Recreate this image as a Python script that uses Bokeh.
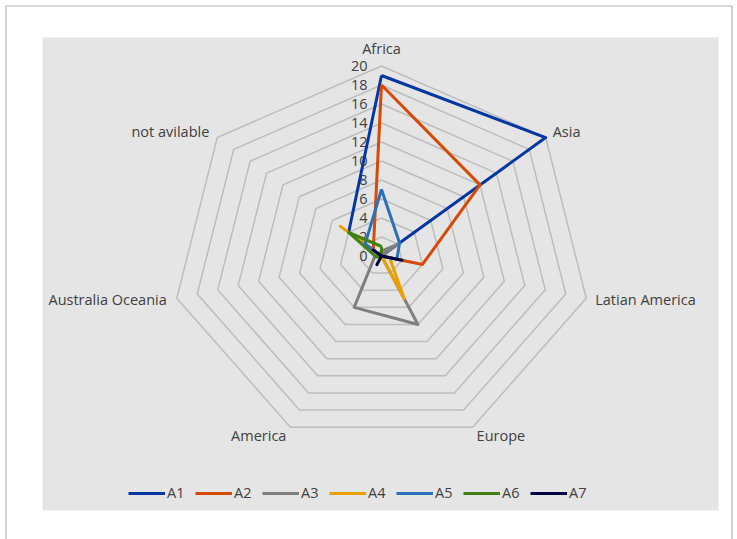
import numpy as np
from bokeh.plotting import figure
from bokeh.models import Range1d, Legend, LegendItem, BoxAnnotation
from bokeh.embed import file_html
from bokeh.resources import INLINE
from bokeh.core.properties import value

# ---------------- data ----------------
categories = ["Africa", "Asia", "Latian America", "Europe", "America",
              "Australia Oceania", "not avilable"]
tick_values = [0, 2, 4, 6, 8, 10, 12, 14, 16, 18, 20]
series_names = ["A1", "A2", "A3", "A4", "A5", "A6", "A7"]
A1 = [19, 20, 0, 0, 0, 0, 4]
A2 = [18, 12, 4, 0, 0, 0, 1]
A3 = [0.5, 2, 0, 8, 6, 0.7, 0.3]
A4 = [0, 0, 0.8, 5, 0, 0, 5]
A5 = [7, 2.2, 1.5, 0, 0, 0, 2]
A6 = [1, 0, 0, 0, 0, 0.5, 4]
A7 = [0, 0, 2, 0, 1, 0, 1]
series_values = [A1, A2, A3, A4, A5, A6, A7]

# ---------------- styles ----------------
colors = ["#0537A1", "#D64A06", "#7F7F7F", "#E8A100", "#2A72B8", "#3F8112", "#03033F"]
FONT = "Open Sans"
W, H = 737, 539
CX, CY = 381.0, 255.5      # pixel centre of the radar
SX, SY = 10.5, 9.5         # pixels per value unit (x, y)

def X(px):
    return (px - CX) / SX

def Y(py):
    return (CY - py) / SY

n = len(categories)
ang = np.pi / 2 - 2 * np.pi * np.arange(n) / n

p = figure(width=W, height=H, x_range=Range1d(X(0), X(W)), y_range=Range1d(Y(H), Y(0)),
           output_backend="svg", toolbar_location=None, min_border=0,
           x_axis_type=None, y_axis_type=None)
p.grid.visible = False
p.outline_line_color = None
p.background_fill_color = "white"
p.border_fill_color = "white"

# plot area and outer frame
p.add_layout(BoxAnnotation(left=X(42), right=X(718), top=Y(37), bottom=Y(510),
                           fill_color="#E5E5E5", fill_alpha=1, line_color=None,
                           level="underlay"))
p.add_layout(BoxAnnotation(left=X(5.5), right=X(731.5), top=Y(5.5), bottom=Y(600),
                           fill_color=None, line_color="black", line_width=1.2,
                           level="overlay"))

# grid rings
for t in tick_values[1:]:
    xs = list(t * np.cos(ang)) + [t * np.cos(ang[0])]
    ys = list(t * np.sin(ang)) + [t * np.sin(ang[0])]
    p.line(xs, ys, line_color="#BDBDBD", line_width=1.5)

# tick labels
p.text(x=[0] * len(tick_values), y=tick_values, text=[str(t) for t in tick_values],
       x_offset=-14, text_align="right", text_baseline="middle",
       text_font=value(FONT), text_font_size="14.5px", text_color="#404040")

# category labels
rmax = tick_values[-1]
lab_align = ["center", "left", "left", "left", "right", "right", "right"]
lab_dx = [0, 7, 9, 4, -4, -10, -8]
lab_dy = [-18, -6, 1, 8, 8, 1, -6]
for k, c in enumerate(categories):
    p.text(x=[rmax * np.cos(ang[k])], y=[rmax * np.sin(ang[k])], text=[c],
           x_offset=lab_dx[k], y_offset=lab_dy[k], text_align=lab_align[k],
           text_baseline="middle", text_font=value(FONT), text_font_size="14.5px",
           text_color="#404040")

# series
items = []
for name, vals, col in zip(series_names, series_values, colors):
    v = np.array(vals, dtype=float)
    xs = list(v * np.cos(ang)) + [v[0] * np.cos(ang[0])]
    ys = list(v * np.sin(ang)) + [v[0] * np.sin(ang[0])]
    r = p.line(xs, ys, line_color=col, line_width=3, line_join="round")
    items.append(LegendItem(label=name, renderers=[r]))

legend = Legend(items=items, orientation="horizontal", location=(128, 37),
                glyph_width=37, glyph_height=14, label_standoff=2, spacing=8,
                padding=0, margin=0, border_line_color=None, background_fill_alpha=0,
                label_text_font=FONT, label_text_font_size="14.5px",
                label_text_color="#404040", label_height=14)
p.add_layout(legend, "center")

open("out.html", "w").write(file_html(p, INLINE))
